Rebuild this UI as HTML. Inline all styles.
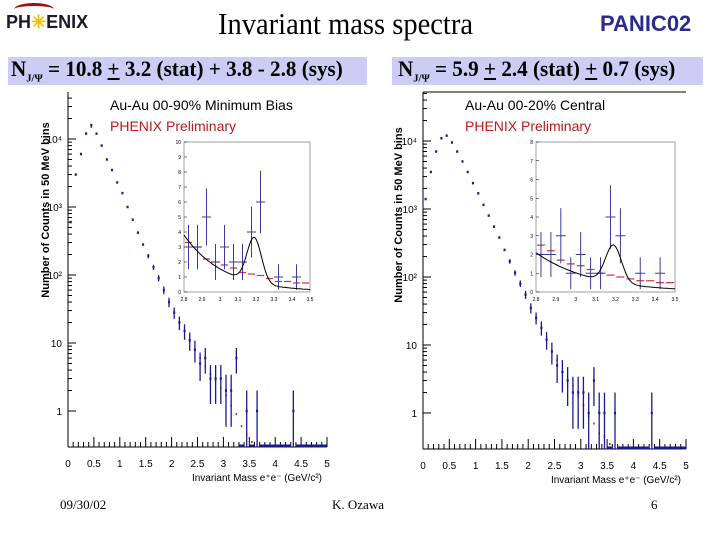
<!DOCTYPE html>
<html><head><meta charset="utf-8"><style>
body{margin:0;width:720px;height:540px;background:#fff;position:relative;overflow:hidden;font-family:"Liberation Sans",sans-serif}
.a{position:absolute;white-space:nowrap}
</style></head><body>
<div class="a" style="left:6px;top:12px;font:bold 18px 'Liberation Sans',sans-serif;color:#1a1a2a">PH<span style="color:#f0c000">✳</span>ENIX</div>
<div class="a" style="left:14px;top:3px;width:40px;height:10px;border-top:3px solid #a01010;border-radius:50% 50% 0 0"></div>
<div class="a" style="left:218px;top:6px;font:31px 'Liberation Serif',serif;transform:scaleX(0.92);transform-origin:0 0">Invariant mass spectra</div>
<div class="a" style="left:600px;top:11px;font:bold 22px 'Liberation Sans',sans-serif;color:#2a2a90">PANIC02</div>
<div class="a" style="left:8px;top:57px;width:359px;height:28px;background:#ccccf5"></div>
<div class="a" style="left:392px;top:57px;width:311px;height:28px;background:#ccccf5"></div>
<div class="a" style="left:11px;top:56px;font:bold 22px 'Liberation Serif',serif;transform:scaleX(0.96);transform-origin:0 0">N<sub style="font-size:11px">J/Ψ</sub> = 10.8 <u>+</u> 3.2 (stat) + 3.8 - 2.8 (sys)</div>
<div class="a" style="left:398px;top:56px;font:bold 22px 'Liberation Serif',serif;transform:scaleX(0.96);transform-origin:0 0">N<sub style="font-size:11px">J/Ψ</sub> = 5.9 <u>+</u> 2.4 (stat) <u>+</u> 0.7 (sys)</div>
<svg id="s" width="720" height="540" style="position:absolute;left:0;top:0"></svg>
<div class="a" style="left:60px;top:497px;font:13px 'Liberation Serif',serif">09/30/02</div>
<div class="a" style="left:332px;top:497px;font:13px 'Liberation Serif',serif">K. Ozawa</div>
<div class="a" style="left:651px;top:497px;font:13px 'Liberation Serif',serif">6</div>
<script>
const massMain=[0.05,0.15,0.25,0.35,0.45,0.55,0.65,0.75,0.85,0.95,1.05,1.15,1.25,1.35,1.45,1.55,1.65,1.75,1.85,1.95,2.05,2.15,2.25,2.35,2.45,2.55,2.65,2.75,2.85,2.95,3.05,3.15,3.25,3.35,3.45,3.55,3.65,3.75,3.85,3.95,4.05,4.15,4.25,4.35,4.45,4.55,4.65,4.75,4.85,4.95];
const blueLeft=[600,3000,6000,12000,16000,12000,8000,5000,3500,2300,1600,1000,650,420,280,190,130,90,60,40,28,20,15,11,8,5,6,3,3,3,2,2,6,0,1,0,1,0,0,0,0,0,0,1,0,0,0,0,0,0];
const redLeft=[600,3000,6000,12000,15000,12000,8000,5000,3500,2300,1600,1000,650,420,280,190,130,90,60,40,28,20,15,11,8,6,4.5,3.5,2.8,2.2,1.7,1.2,0.9,0.6,0.45,0.35,0.3,0,0,0,0,0,0,0,0,0,0,0,0,0];
const blueRight=[1400,3500,7000,11000,12000,9500,7000,5000,3500,2400,1700,1150,800,550,380,250,170,115,80,55,35,25,18,12,8,5,4,3,2,2,2,1,3,1,1,0,1,0,0,0,0,0,0,1,0,0,0,0,0,0];
const redRight=[1400,3500,7000,11000,12000,9500,7000,5000,3500,2400,1700,1150,800,550,380,250,170,115,80,55,35,25,18,12,8,6,4,3,2.5,1.8,1.3,0.9,0.7,0.5,0.45,0.35,0,0,0,0,0,0,0,0,0,0,0,0,0,0];
const massInset=[2.825,2.875,2.925,2.975,3.025,3.075,3.125,3.175,3.225,3.275,3.325,3.375,3.425,3.475];
const insetBlueLeft=[3,3,5,2,3,2,2,4,6,0,1,0,1,0];
const insetRedLeft=[3.3,3,2.2,2,1.8,1.6,1.3,1.2,1.1,0.9,0.7,0.7,0.6,0.6];
const insetBlueRight=[2,2,3,1,2,1,1,4,3,0,1,0,1,0];
const insetRedRight=[2.5,2.2,1.7,1.5,1.4,1.2,1,0.9,0.8,0.7,0.6,0.6,0.5,0.5];
const fitLeft=[3.8,0.2,3.0,3.19,0.04];
const fitRight=[2.1,0.25,2.0,3.19,0.04];
const xTicks=["0","0.5","1","1.5","2","2.5","3","3.5","4","4.5","5"];
const insetXTicks=["2.8","2.9","3","3.1","3.2","3.3","3.4","3.5"];
const S=document.getElementById('s');const NS='http://www.w3.org/2000/svg';
function el(t,a,p){const e=document.createElementNS(NS,t);for(const k in a)e.setAttribute(k,a[k]);(p||S).appendChild(e);return e;}
function panel(P,blue,red,ib,ir,fit,ymax,side){
  const g=el('g',{});
  
  
  const X=m=>P.x0+(P.x1-P.x0)*m/5;
  const Y=v=>v<=0?P.yb:Math.min(P.yb,P.y1-P.dec*Math.log10(v));
  el('line',{x1:P.x0,y1:P.top,x2:P.x0,y2:P.yb,stroke:'#000','stroke-width':1},g);
  el('line',{x1:P.x0,y1:P.yb,x2:P.x1,y2:P.yb,stroke:'#000','stroke-width':1},g);
  if(P.topLine)el('line',{x1:P.x0,y1:P.top,x2:P.x1,y2:P.top,stroke:'#000'},g);
  xTicks.forEach((t,i)=>{const x=X(i*0.5);el('line',{x1:x,y1:P.yb,x2:x,y2:P.yb-10,stroke:'#000'},g);
    const tx=el('text',{x:x,y:P.yb+20,'font-size':10,'text-anchor':'middle','font-family':'Liberation Sans,sans-serif'},g);tx.textContent=t;
    });
  for(let i=1;i<50;i++){if(i%5)el('line',{x1:X(i*0.1),y1:P.yb,x2:X(i*0.1),y2:P.yb-5,stroke:'#000'},g);}
  [[0,'1'],[1,'10'],[2,'10²'],[3,'10³'],[4,'10⁴']].forEach(([d,l])=>{const y=P.y1-P.dec*d;
    el('line',{x1:P.x0,y1:y,x2:P.x0+8,y2:y,stroke:'#000'},g);
    const tx=el('text',{x:P.x0-6,y:y+4,'font-size':10,'text-anchor':'end','font-family':'Liberation Sans,sans-serif'},g);tx.textContent=l;
    
    for(let k=2;k<10;k++){const yy=y-P.dec*Math.log10(k);if(yy>P.top&&yy<P.yb)el('line',{x1:P.x0,y1:yy,x2:P.x0+4,y2:yy,stroke:'#000'},g);}});
  massMain.forEach((m,i)=>{const v=red[i];if(v>0){const y=Y(v);el('line',{x1:X(m-0.015),y1:y,x2:X(m+0.015),y2:y,stroke:'#c02020','stroke-width':2},g);}});
  massMain.forEach((m,i)=>{const v=blue[i];
    if(v>0){const y=Y(v);const e=Math.sqrt(v);
      el('line',{x1:X(m-0.02),y1:y,x2:X(m+0.02),y2:y,stroke:'#1a1a90','stroke-width':2.5},g);
      if(v<200)el('line',{x1:X(m),y1:Y(v+e),x2:X(m),y2:Y(v-e),stroke:'#1a1a90','stroke-width':1.3},g);}
    else if(m>3)el('line',{x1:X(m-0.05),y1:P.yb-1,x2:X(m+0.05),y2:P.yb-1,stroke:'#1a1a90','stroke-width':3},g);});
  const yt=el('text',{transform:`translate(${P.yl},${P.ylc}) rotate(-90)`,'font-size':11,'font-weight':'bold','text-anchor':'middle','font-family':'Liberation Sans,sans-serif'},g);
  yt.textContent='Number of Counts in 50 MeV bins';
  const xt=el('text',{x:P.x1-5,y:P.yb+34,'font-size':10,'text-anchor':'end','font-family':'Liberation Sans,sans-serif'},g);
  xt.textContent='Invariant Mass e⁺e⁻ (GeV/c²)';
  const l1=el('text',{x:P.lx,y:110,'font-size':14,'font-family':'Liberation Sans,sans-serif'},g);l1.textContent=P.label;
  
  const l2=el('text',{x:P.lx,y:131,'font-size':14,fill:'#c01818','font-family':'Liberation Sans,sans-serif'},g);l2.textContent='PHENIX Preliminary';
  
  const I=P.inset;const IX=m=>I.x0+(I.x1-I.x0)*(m-2.8)/0.7;const IY=v=>I.y1-(I.y1-I.y0)*v/ymax;
  const ig=el('g',{},g);
  el('rect',{x:I.x0,y:I.y0,width:I.x1-I.x0,height:I.y1-I.y0,fill:'#fff',stroke:'#888','stroke-width':0.8},ig);
  insetXTicks.forEach((t,i)=>{const x=IX(2.8+i*0.1);const tx=el('text',{x:x,y:I.y1+9,'font-size':5,'text-anchor':'middle'},ig);tx.textContent=t;
    });
  for(let v=0;v<=ymax;v++){const tx=el('text',{x:I.x0-3,y:IY(v)+2,'font-size':5,'text-anchor':'end'},ig);tx.textContent=v;
    
    el('line',{x1:I.x0,y1:IY(v),x2:I.x0+3,y2:IY(v),stroke:'#000','stroke-width':0.5},ig);}
  massInset.forEach((m,i)=>{const y=IY(ir[i]);el('line',{x1:IX(m-0.02),y1:y,x2:IX(m+0.02),y2:y,stroke:'#d03030','stroke-width':1.2},ig);});
  massInset.forEach((m,i)=>{const v=ib[i];if(v>0){const e=Math.sqrt(v)*0.85;
    el('line',{x1:IX(m-0.025),y1:IY(v),x2:IX(m+0.025),y2:IY(v),stroke:'#3a3aa0','stroke-width':1},ig);
    el('line',{x1:IX(m),y1:IY(Math.min(ymax,v+e)),x2:IX(m),y2:IY(Math.max(0,v-e)),stroke:'#3a3aa0','stroke-width':1},ig);}});
  let d='';for(let k=0;k<=70;k++){const m=2.8+k*0.01;const v=fit[0]*Math.exp(-(m-2.8)/fit[1]*0.9)+fit[2]*Math.exp(-0.5*((m-fit[3])/fit[4])**2);
    d+=(k?'L':'M')+IX(m).toFixed(1)+','+IY(v).toFixed(1);}
  const c=el('path',{d:d,fill:'none',stroke:'#000','stroke-width':1},ig);
}
panel({x0:68,x1:327,yb:447,y1:411,dec:68,top:92,topLine:false,yl:49,ylc:210,lx:110,label:'Au-Au 00-90% Minimum Bias',inset:{x0:184,x1:310,y0:142,y1:292}},blueLeft,redLeft,insetBlueLeft,insetRedLeft,fitLeft,10,'left');
panel({x0:423,x1:686,yb:449,y1:413,dec:68,top:92,topLine:true,yl:402,ylc:215,lx:465,label:'Au-Au 00-20% Central',inset:{x0:536,x1:675,y0:142,y1:292}},blueRight,redRight,insetBlueRight,insetRedRight,fitRight,8,'right');
</script>
</body></html>
